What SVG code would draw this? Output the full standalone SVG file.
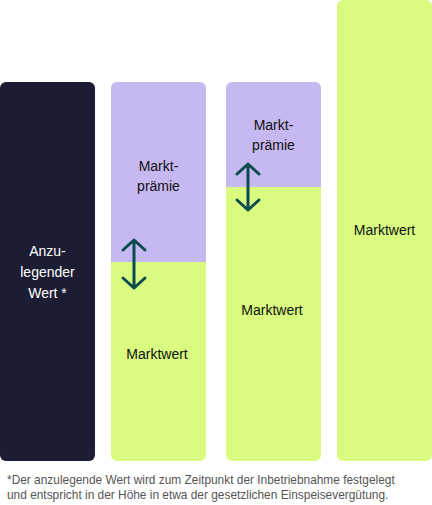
<svg xmlns="http://www.w3.org/2000/svg" width="432" height="505" viewBox="0 0 432 505">
<style>
.lbl{font-family:"Liberation Sans",Arial,sans-serif;font-size:14px;fill:#111;text-anchor:middle}
.wht{fill:#fff}
.note{font-family:"Liberation Sans",Arial,sans-serif;font-size:11.9px;fill:#555}
.arr{fill:none;stroke:#0b4a4e;stroke-width:3;stroke-linecap:round;stroke-linejoin:round}
</style>
<defs>
<clipPath id="c2"><rect x="111" y="82" width="95" height="379" rx="6"/></clipPath>
<clipPath id="c3"><rect x="226" y="82" width="95" height="379" rx="6"/></clipPath>
</defs>
<rect width="432" height="505" fill="#fff"/>
<g id="bar-anzulegender-wert">
<rect x="0" y="82" width="95" height="379" rx="6" fill="#1c1c33"/>
<text class="lbl wht" x="47.5" y="256">Anzu-</text>
<text class="lbl wht" x="47.5" y="277">legender</text>
<text class="lbl wht" x="47.5" y="298">Wert *</text>
</g>
<g id="bar-2" clip-path="url(#c2)">
<rect x="111" y="82" width="95" height="180" fill="#c6b8f0"/>
<rect x="111" y="262" width="95" height="199" fill="#d8fb80"/>
</g>
<g id="bar-2-labels">
<text class="lbl" x="158.5" y="171">Markt-</text>
<text class="lbl" x="158.5" y="191">prämie</text>
<text class="lbl" x="157" y="359">Marktwert</text>
</g>
<g id="bar-3" clip-path="url(#c3)">
<rect x="226" y="82" width="95" height="105" fill="#c6b8f0"/>
<rect x="226" y="187" width="95" height="274" fill="#d8fb80"/>
</g>
<g id="bar-3-labels">
<text class="lbl" x="273.5" y="130">Markt-</text>
<text class="lbl" x="273.5" y="150">prämie</text>
<text class="lbl" x="272" y="315">Marktwert</text>
</g>
<g id="bar-4">
<rect x="337" y="0" width="95" height="461" rx="6" fill="#d8fb80"/>
<text class="lbl" x="384.5" y="235">Marktwert</text>
</g>
<g id="connectors">
<path class="arr" d="M134 240 V288 M123 250 L134 240 L145 250 M123 278 L134 288 L145 278"/>
<path class="arr" d="M248 164 V210 M237 174 L248 164 L259 174 M237 200 L248 210 L259 200"/>
</g>
<g id="footnote">
<text class="note" x="7" y="484">*Der anzulegende Wert wird zum Zeitpunkt der Inbetriebnahme festgelegt</text>
<text class="note" x="7" y="499">und entspricht in der Höhe in etwa der gesetzlichen Einspeisevergütung.</text>
</g>
</svg>
